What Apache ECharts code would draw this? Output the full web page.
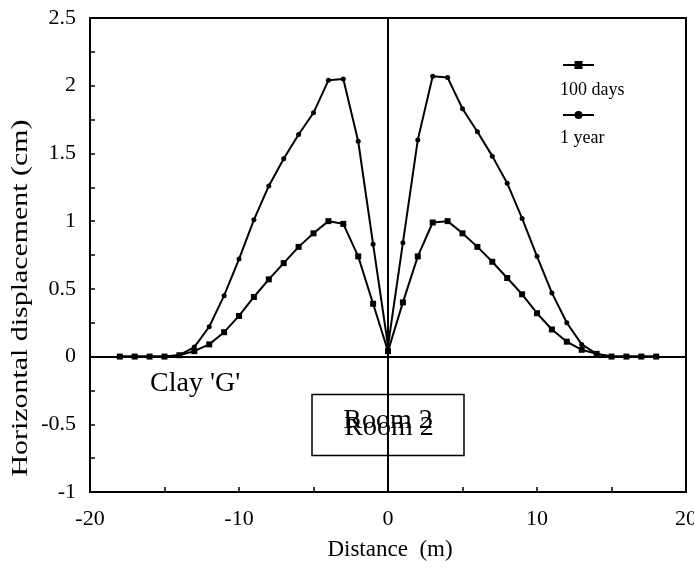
<!DOCTYPE html>
<html>
<head>
<meta charset="utf-8">
<script src="https://cdn.jsdelivr.net/npm/echarts@6/dist/echarts.min.js"></script>
<style>
  html, body { margin: 0; padding: 0; background: #fff; }
  #main { width: 694px; height: 569px; }
</style>
</head>
<body>
<div id="main"></div>
<script>
// distance from room centre (m)
var distance = [-18, -17, -16, -15, -14, -13, -12, -11, -10, -9, -8, -7, -6, -5, -4, -3, -2, -1, 0,
                1, 2, 3, 4, 5, 6, 7, 8, 9, 10, 11, 12, 13, 14, 15, 16, 17, 18];
// horizontal displacement (cm)
var days100 = [0, 0, 0, 0, 0.01, 0.04, 0.09, 0.18, 0.30, 0.44, 0.57, 0.69, 0.81, 0.91, 1.00, 0.98, 0.74, 0.39, 0.04,
               0.40, 0.74, 0.99, 1.00, 0.91, 0.81, 0.70, 0.58, 0.46, 0.32, 0.20, 0.11, 0.05, 0.02, 0, 0, 0, 0];
var year1 = [0, 0, 0, 0, 0.01, 0.07, 0.22, 0.45, 0.72, 1.01, 1.26, 1.46, 1.64, 1.80, 2.04, 2.05, 1.59, 0.83, 0.08,
             0.84, 1.60, 2.07, 2.06, 1.83, 1.66, 1.48, 1.28, 1.02, 0.74, 0.47, 0.25, 0.09, 0.02, 0, 0, 0, 0];
var seriesNames = ['100 days', '1 year'];

var FONT = "'Liberation Serif', 'DejaVu Serif', serif";

function pairs(ys) {
  return distance.map(function (x, i) { return [x, ys[i]]; });
}

var myChart = echarts.init(document.getElementById('main'));
var option = {
  animation: false,
  backgroundColor: '#fff',
  grid: { left: 90, right: 8, top: 18, bottom: 77, outerBoundsMode: 'none', show: true, borderColor: '#000', borderWidth: 2 },
  legend: {
    data: seriesNames,
    orient: 'vertical',
    left: 557,
    top: 55,
    itemWidth: 31,
    itemHeight: 10,
    itemGap: 41,
    formatter: function () { return ''; },
    textStyle: { fontSize: 10 },
    selectedMode: false
  },
  xAxis: {
    type: 'value',
    min: -20, max: 20, interval: 10,
    axisLine: { onZero: false, lineStyle: { color: '#000', width: 2 } },
    axisTick: { inside: true, length: 5, lineStyle: { color: '#000', width: 1.5 } },
    minorTick: { show: true, splitNumber: 2, length: 5, lineStyle: { color: '#000', width: 1.5 } },
    splitLine: { show: false },
    axisLabel: { color: '#000', fontSize: 22, fontFamily: FONT, margin: 16 }
  },
  yAxis: {
    type: 'value',
    min: -1, max: 2.5, interval: 0.5,
    axisLine: { onZero: false, lineStyle: { color: '#000', width: 2 } },
    axisTick: { inside: true, length: 5, lineStyle: { color: '#000', width: 1.5 } },
    minorTick: { show: true, splitNumber: 2, length: 5, lineStyle: { color: '#000', width: 1.5 } },
    splitLine: { show: false },
    axisLabel: { color: '#000', fontSize: 22, fontFamily: FONT, margin: 14 }
  },
  graphic: [
    { type: 'text', x: 21, y: 298, rotation: Math.PI / 2, scaleX: 1.3,
      style: { text: 'Horizontal displacement (cm)', font: "23px 'Liberation Serif'", fill: '#000', textAlign: 'center', textVerticalAlign: 'middle' } },
    { type: 'text', x: 390, y: 550,
      style: { text: 'Distance  (m)', font: "23px 'Liberation Serif'", fill: '#000', textAlign: 'center', textVerticalAlign: 'middle' } },
    { type: 'text', x: 150, y: 384,
      style: { text: "Clay 'G'", font: "28px 'Liberation Serif'", fill: '#000', textAlign: 'left', textVerticalAlign: 'middle' } },
    { type: 'text', x: 560, y: 90,
      style: { text: '100 days', font: "18px 'Liberation Serif'", fill: '#000', textAlign: 'left', textVerticalAlign: 'middle' } },
    { type: 'text', x: 560, y: 138,
      style: { text: '1 year', font: "18px 'Liberation Serif'", fill: '#000', textAlign: 'left', textVerticalAlign: 'middle' } }
  ],
  series: [
    {
      name: seriesNames[0],
      type: 'line',
      data: pairs(days100),
      symbol: 'rect',
      symbolSize: 6,
      itemStyle: { color: '#000' },
      lineStyle: { color: '#000', width: 2 },
      markLine: {
        silent: true,
        symbol: ['none', 'none'],
        label: { show: false },
        lineStyle: { color: '#000', type: 'solid', width: 2 },
        data: [{ xAxis: 0 }, { yAxis: 0 }]
      }
    },
    {
      name: seriesNames[1],
      type: 'line',
      data: pairs(year1),
      symbol: 'circle',
      symbolSize: 5,
      itemStyle: { color: '#000' },
      lineStyle: { color: '#000', width: 2 }
    },
    {
      // room outline drawn over the x = 0 line
      name: 'room',
      type: 'scatter',
      data: [],
      z: 5,
      markArea: {
        silent: true,
        itemStyle: { color: '#fff', borderColor: '#000', borderWidth: 1.5 },
        label: { position: 'inside', color: '#000', fontSize: 28, fontFamily: FONT },
        data: [
          [{ name: 'Room 2', xAxis: -5.1, yAxis: -0.28, label: { offset: [0, -4] } }, { xAxis: 5.1, yAxis: -0.73 }],
          [{ name: 'Room 2', xAxis: -5.1, yAxis: -0.28, itemStyle: { color: 'rgba(0,0,0,0)', borderWidth: 0 }, label: { offset: [1, 3] } },
           { xAxis: 5.1, yAxis: -0.73 }]
        ]
      }
    }
  ]
};

myChart.setOption(option);
</script>
</body>
</html>
